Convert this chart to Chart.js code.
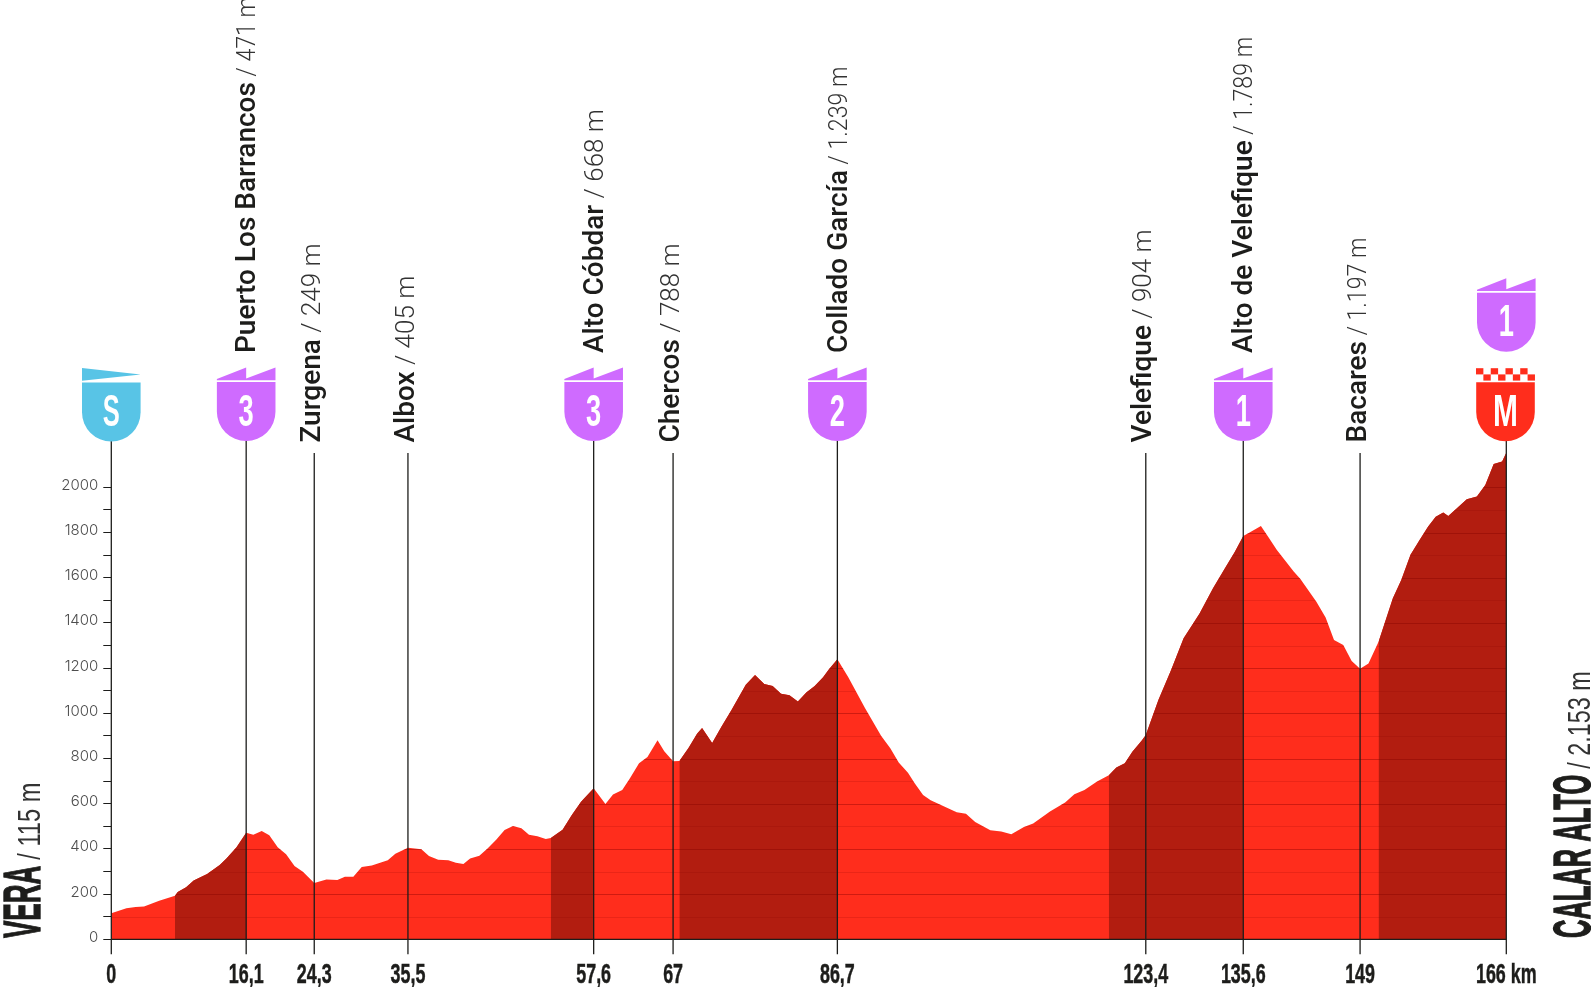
<!DOCTYPE html>
<html>
<head>
<meta charset="utf-8">
<title>Perfil etapa Vera - Calar Alto</title>
<script src="https://cdn.jsdelivr.net/npm/chart.js@4"></script>
<style>
  html, body { margin: 0; padding: 0; background: #fff; }
  canvas { display: block; }
</style>
</head>
<body>
<canvas id="perfil" width="1591" height="987"></canvas>
<script>
// perfil de la etapa: km / altitud
const routeKm = [
  0, 1.8, 2.9, 3.9, 5.7, 7.58, 7.9, 8.9, 9.8, 11.4, 12.9, 13.7, 14.9, 16.05, 16.9, 17.9, 18.8, 19.8, 20.8, 21.8, 22.8, 24.15,
  25.6, 26.9, 27.8, 28.8, 29.8, 31.0, 32.9, 33.8, 35.3, 36.9, 37.8, 38.9, 40.1, 41.0, 41.9, 42.7, 43.8, 44.8, 45.8, 46.8,
  47.8, 48.8, 49.7, 50.7, 51.7, 52.3, 53.7, 54.8, 55.9, 57.4, 58.8, 59.7, 60.8, 61.7, 62.8, 63.8, 65.0, 65.8, 66.85, 67.6,
  68.7, 69.7, 70.3, 71.5, 72.6, 73.8, 75.5, 76.6, 77.7, 78.7, 79.7, 80.7, 81.7, 82.7, 83.7, 84.7, 85.4, 86.4, 87.7, 89.7,
  91.6, 92.7, 93.7, 94.8, 95.6, 96.6, 97.5, 98.6, 100.6, 101.7, 102.8, 104.6, 105.9, 107.1, 108.6, 109.7, 111.7, 113.5,
  114.6, 115.8, 117.3, 118.7, 119.6, 120.6, 121.5, 122.6, 123.1, 124.6, 126.1, 127.6, 129.5, 131.1, 132.5, 133.7, 134.7,
  135.4, 136.8, 137.7, 138.7, 140.7, 141.5, 143.4, 144.5, 145.5, 146.6, 147.6, 148.6, 149.6, 150.8, 152.5, 153.5, 154.6,
  155.7, 156.7, 157.6, 158.5, 159.1, 161.3, 162.5, 163.5, 164.5, 165.5, 166
];
const routeElevation = [
  115, 137, 143, 145, 171, 193, 209, 230, 260, 289, 329, 358, 407, 471, 463, 479, 460, 407, 376, 324, 299, 249,
  265, 262, 277, 277, 320, 326, 350, 378, 405, 398, 369, 352, 350, 339, 333, 357, 370, 403, 440, 484,
  501, 491, 463, 456, 444, 448, 485, 550, 609, 668, 599, 641, 661, 712, 779, 807, 881, 832, 788, 789,
  848, 910, 935, 869, 941, 1015, 1126, 1170, 1130, 1121, 1086, 1080, 1052, 1092, 1121, 1159, 1195, 1239, 1159, 1022,
  901, 845, 782, 737, 690, 638, 615, 597, 562, 556, 519, 483, 477, 465, 497, 512, 565, 605,
  642, 661, 698, 726, 760, 779, 830, 879, 904, 1059, 1191, 1332, 1442, 1553, 1641, 1715, 1785,
  1799, 1829, 1779, 1723, 1627, 1594, 1494, 1424, 1324, 1302, 1231, 1197, 1220, 1317, 1509, 1590, 1701,
  1768, 1827, 1870, 1889, 1873, 1947, 1959, 2010, 2103, 2114, 2153
];
// tramos de subida (zona oscura)
const climbStartKm = [7.58, 52.3, 67.6, 118.7, 150.8];
const climbEndKm = [16.05, 57.4, 86.4, 134.7, 166];

// puntos de paso
const passKm = [16.05, 24.15, 35.3, 57.4, 66.85, 86.4, 123.1, 134.7, 148.6];
const passNames = ['Puerto Los Barrancos', 'Zurgena', 'Albox', 'Alto Cóbdar', 'Chercos', 'Collado García', 'Velefique', 'Alto de Velefique', 'Bacares'];
const passHeights = ['471 m', '249 m', '405 m', '668 m', '788 m', '1.239 m', '904 m', '1.789 m', '1.197 m'];
const passBadges = ['3', '', '', '3', '', '2', '', '1', ''];

const tickKm = [0, 16.05, 24.15, 35.3, 57.4, 66.85, 86.4, 123.1, 134.7, 148.6, 166];
const tickLabels = ['0', '16,1', '24,3', '35,5', '57,6', '67', '86,7', '123,4', '135,6', '149', '166 km'];

const RED = '#ff2d1c';
const DARK_RED = '#b21d10';
const PURPLE = '#cf6bff';
const BLUE = '#58c4e6';
const INK = '#1d1d1b';
const NARROW = '"Liberation Sans Narrow", "Liberation Sans"';

const CHART_TOP = 442.1, CHART_BOTTOM = 939.3, CHART_LEFT = 111.3, CHART_RIGHT = 1506.3;

const profilePoints = routeKm.map((km, i) => ({ x: km, y: routeElevation[i] }));
const climbPoints = routeKm.map((km, i) => {
  const inClimb = climbStartKm.some((start, c) => km >= start && km <= climbEndKm[c]);
  return { x: km, y: inClimb ? routeElevation[i] : null };
});

// texto estrecho (la fuente original es condensada)
function narrowText(ctx, text, x, y, font, sx, color, align, heavy) {
  ctx.save();
  ctx.font = font;
  ctx.fillStyle = color;
  ctx.textBaseline = 'alphabetic';
  ctx.textAlign = 'left';
  const w = ctx.measureText(text).width * sx;
  const left = align === 'center' ? x - w / 2 : x;
  ctx.translate(left, y);
  ctx.scale(sx, 1);
  ctx.fillText(text, 0, 0);
  if (heavy) {
    ctx.strokeStyle = color;
    ctx.lineWidth = heavy;
    ctx.strokeText(text, 0, 0);
  }
  ctx.restore();
  return w;
}

function shieldPath(ctx, cx, top) {
  const bottom = top + 59;
  const r = 29.3;
  ctx.beginPath();
  ctx.moveTo(cx - r, top);
  ctx.lineTo(cx + r, top);
  ctx.lineTo(cx + r, bottom - r);
  ctx.arc(cx, bottom - r, r, 0, Math.PI);
  ctx.closePath();
}

function drawClimbBadge(ctx, cx, top, text, color) {
  ctx.fillStyle = color;
  shieldPath(ctx, cx, top);
  ctx.fill();
  // banderola
  ctx.beginPath();
  ctx.moveTo(cx - 29.3, top - 1.7);
  ctx.lineTo(cx - 29.3, top - 3);
  ctx.lineTo(cx, top - 14.4);
  ctx.lineTo(cx, top - 3.4);
  ctx.lineTo(cx + 29.3, top - 14.4);
  ctx.lineTo(cx + 29.3, top - 1.7);
  ctx.closePath();
  ctx.fill();
  narrowText(ctx, text, cx, top + 43.5, 'bold 44px ' + NARROW, 0.62, '#fff', 'center');
}

const profileOverlay = {
  id: 'profileOverlay',
  afterDatasetsDraw(chart) {
    const { ctx, scales: { x, y } } = chart;
    const base = y.getPixelForValue(0);

    // lineas de altitud solo dentro del perfil
    ctx.save();
    ctx.beginPath();
    ctx.moveTo(x.getPixelForValue(routeKm[0]), base);
    routeKm.forEach((km, i) => ctx.lineTo(x.getPixelForValue(km), y.getPixelForValue(routeElevation[i])));
    ctx.lineTo(x.getPixelForValue(166), base);
    ctx.closePath();
    ctx.clip();
    y.ticks.forEach(t => {
      if (t.value === 0) return;
      const py = Math.round(y.getPixelForValue(t.value)) + 0.5;
      ctx.strokeStyle = t.value % 200 === 0 ? 'rgba(130,0,0,0.38)' : 'rgba(130,0,0,0.16)';
      ctx.lineWidth = 1;
      ctx.beginPath();
      ctx.moveTo(x.left, py);
      ctx.lineTo(x.right, py);
      ctx.stroke();
    });
    ctx.restore();

    // linea base
    ctx.strokeStyle = INK;
    ctx.lineWidth = 1.3;
    ctx.beginPath();
    ctx.moveTo(x.left, base);
    ctx.lineTo(x.right, base);
    ctx.stroke();

    // salida y meta
    [[0, 441], [166, 441]].forEach(([km, top]) => {
      const px = x.getPixelForValue(km);
      ctx.beginPath();
      ctx.moveTo(px, top);
      ctx.lineTo(px, base + 15);
      ctx.stroke();
    });

    // puntos de paso
    passKm.forEach((km, i) => {
      const px = x.getPixelForValue(km);
      const hasBadge = passBadges[i] !== '';
      ctx.strokeStyle = INK;
      ctx.lineWidth = 1.3;
      ctx.beginPath();
      ctx.moveTo(px, hasBadge ? 441 : 453);
      ctx.lineTo(px, base + 15);
      ctx.stroke();
      if (hasBadge) drawClimbBadge(ctx, px, 382, passBadges[i], PURPLE);

      // nombre + altitud girados
      ctx.save();
      ctx.translate(px + (hasBadge ? 9.2 : 5.7), hasBadge ? 353 : 442.5);
      ctx.rotate(-Math.PI / 2);
      ctx.textBaseline = 'alphabetic';
      ctx.fillStyle = INK;
      ctx.font = '500 28px Roboto';
      ctx.fillText(passNames[i], 0, 0);
      const w = ctx.measureText(passNames[i]).width;
      // el "1" de la fuente original es muy estrecho
      const hasOne = passHeights[i].includes('1');
      narrowText(ctx, ' / ' + passHeights[i], w, 0, '300 26px Roboto', hasOne ? 0.89 : 1, '#333');
      ctx.restore();
    });

    // etiquetas km
    tickKm.forEach((km, i) => {
      narrowText(ctx, tickLabels[i], x.getPixelForValue(km), 983, 'bold 27.5px ' + NARROW, 0.65, INK, 'center', 0.5);
    });

    // insignias salida / meta
    const startX = x.getPixelForValue(0);
    ctx.fillStyle = BLUE;
    shieldPath(ctx, startX, 382.5);
    ctx.fill();
    ctx.beginPath();
    ctx.moveTo(startX - 29.3, 368);
    ctx.lineTo(startX + 29.3, 374.5);
    ctx.lineTo(startX - 29.3, 380.7);
    ctx.closePath();
    ctx.fill();
    narrowText(ctx, 'S', startX, 425.5, 'bold 44px ' + NARROW, 0.58, '#fff', 'center');

    const endX = x.getPixelForValue(166);
    drawClimbBadge(ctx, endX, 292.7, '1', PURPLE);
    ctx.fillStyle = RED;
    shieldPath(ctx, endX - 0.8, 382.3);
    ctx.fill();
    for (let c = 0; c < 8; c++) {
      ctx.fillRect(endX - 30.3 + c * 7.37, c % 2 ? 374.4 : 368.2, 7.37, 6.2);
    }
    narrowText(ctx, 'M', endX - 0.8, 425.5, 'bold 44px ' + NARROW, 0.68, '#fff', 'center');

    // inicio y final de etapa
    ctx.save();
    ctx.translate(40, 938);
    ctx.rotate(-Math.PI / 2);
    let w = narrowText(ctx, 'VERA', 0, 0, 'bold 52px ' + NARROW, 0.5, INK, 'left', 1.4);
    narrowText(ctx, '/ 115 m', w + 6, 0, '32px ' + NARROW, 0.74, '#333');
    ctx.restore();

    ctx.save();
    ctx.translate(1590, 938);
    ctx.rotate(-Math.PI / 2);
    w = narrowText(ctx, 'CALAR ALTO', 0, 0, 'bold 52px ' + NARROW, 0.49, INK, 'left', 1.4);
    narrowText(ctx, '/ 2.153 m', w + 6, 0, '32px ' + NARROW, 0.73, '#333');
    ctx.restore();
  }
};

new Chart(document.getElementById('perfil'), {
  type: 'line',
  data: {
    datasets: [
      { data: profilePoints, backgroundColor: RED, borderWidth: 0, pointRadius: 0, fill: 'origin', tension: 0, order: 2 },
      { data: climbPoints, backgroundColor: DARK_RED, borderWidth: 0, pointRadius: 0, fill: 'origin', tension: 0, spanGaps: false, order: 1 }
    ]
  },
  options: {
    responsive: false,
    animation: false,
    events: [],
    layout: { padding: { top: CHART_TOP, right: 1591 - CHART_RIGHT, left: 0, bottom: 0 } },
    plugins: { legend: { display: false }, tooltip: { enabled: false } },
    scales: {
      x: {
        type: 'linear',
        min: 0,
        max: 166,
        grid: { display: false },
        border: { display: false },
        ticks: { display: false },
        afterFit(scale) { scale.height = 987 - CHART_BOTTOM; }
      },
      y: {
        min: 0,
        max: 2200,
        grid: { drawOnChartArea: false, drawTicks: true, tickLength: 8, color: INK, lineWidth: 1 },
        border: { display: false },
        ticks: {
          stepSize: 100,
          autoSkip: false,
          padding: 5,
          labelOffset: -2,
          color: '#4d4d4d',
          font: { family: 'Inter', size: 15, weight: '300' },
          callback: v => (v % 200 === 0 ? String(v) : '')
        },
        afterBuildTicks(scale) { scale.ticks = scale.ticks.filter(t => t.value <= 2000); },
        afterFit(scale) { scale.width = CHART_LEFT; }
      }
    }
  },
  plugins: [profileOverlay]
});
</script>
</body>
</html>
